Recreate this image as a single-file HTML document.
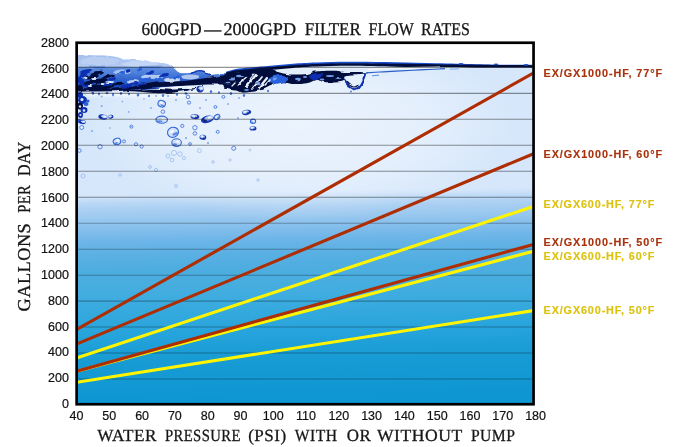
<!DOCTYPE html>
<html lang="en"><head><meta charset="utf-8"><title>600GPD-2000GPD Filter Flow Rates</title>
<style>html,body{margin:0;padding:0;background:#fff}body{width:700px;height:447px;overflow:hidden}svg{display:block}.ax{font-family:"Liberation Sans","DejaVu Sans",sans-serif;font-size:12.5px;fill:#111;stroke:#111;stroke-width:.2px}.tt{font-family:"Liberation Serif","DejaVu Serif",serif;fill:#161616;stroke:#161616;stroke-width:.3px;letter-spacing:.5px;text-rendering:geometricPrecision}.lb{font-family:"Liberation Sans","DejaVu Sans",sans-serif;font-weight:bold;font-size:10.8px;stroke-width:.15px}</style></head><body>
<svg width="700" height="447" viewBox="0 0 700 447">
<defs>
<linearGradient id="bg" x1="515" y1="44" x2="521.07" y2="403" gradientUnits="userSpaceOnUse">
<stop offset="0.0000" stop-color="#d6e7fb"/>
<stop offset="0.3982" stop-color="#d6e7fb"/>
<stop offset="0.4066" stop-color="#d1e4fa"/>
<stop offset="0.4149" stop-color="#c6def7"/>
<stop offset="0.4233" stop-color="#bad8f5"/>
<stop offset="0.4428" stop-color="#aacff2"/>
<stop offset="0.4623" stop-color="#9ecaf0"/>
<stop offset="0.4790" stop-color="#92c5ee"/>
<stop offset="0.4957" stop-color="#86bfec"/>
<stop offset="0.5319" stop-color="#6db5e8"/>
<stop offset="0.5709" stop-color="#5ab0e3"/>
<stop offset="0.6071" stop-color="#4fade0"/>
<stop offset="0.6711" stop-color="#44addf"/>
<stop offset="0.7073" stop-color="#3aabdf"/>
<stop offset="0.7547" stop-color="#2fa7dd"/>
<stop offset="0.7964" stop-color="#25a3dc"/>
<stop offset="0.8410" stop-color="#1b9dd5"/>
<stop offset="0.9078" stop-color="#1499d3"/>
<stop offset="0.9774" stop-color="#0e96d2"/>
<stop offset="0.9997" stop-color="#0e96d2"/>
</linearGradient>
<clipPath id="cp"><rect x="77.5" y="43.6" width="455.19999999999993" height="359.8"/></clipPath>
</defs>
<rect x="0" y="0" width="700" height="447" fill="#fff"/>
<g clip-path="url(#cp)">
<rect x="76" y="44" width="458" height="359" fill="url(#bg)"/>
<path d="M75,43 L537,43 L537,66.4 L536.0,66.3 C526.0,66.2 492.7,65.8 476.0,65.5 C459.3,65.2 449.3,64.9 436.0,64.6 C422.7,64.2 410.3,63.7 396.0,63.4 C381.7,63.1 363.3,62.8 350.0,62.9 C336.7,63.0 325.5,63.6 316.0,64.0 C306.5,64.4 300.6,64.5 293.0,65.1 C285.4,65.7 277.5,66.8 270.3,67.4 C263.1,68.1 255.7,68.5 250.0,69.0 C244.3,69.5 240.2,69.6 236.0,70.3 C231.8,71.0 228.5,72.3 225.0,73.0 C221.5,73.7 217.7,74.3 215.0,74.6 C212.3,74.9 210.4,75.1 208.6,74.6 C206.8,74.0 205.5,71.9 204.0,71.3 C202.5,70.7 201.3,70.5 199.4,70.7 C197.5,70.9 194.8,72.0 192.6,72.4 C190.4,72.8 188.3,73.3 186.0,73.3 C183.7,73.3 181.1,73.4 178.9,72.4 C176.7,71.4 174.9,68.9 173.0,67.5 C171.1,66.1 170.2,64.8 167.4,64.0 C164.6,63.2 159.8,63.2 156.0,62.6 C152.2,62.0 149.4,61.1 144.6,60.6 C139.8,60.1 133.2,60.2 127.4,59.4 C121.6,58.6 115.4,56.7 110.0,56.0 C104.6,55.3 100.7,55.5 95.0,55.4 C89.3,55.2 79.2,55.1 76.0,55.1 L75,55.1 Z" fill="#fff"/>
<defs>
<filter id="rough" x="-5%" y="-30%" width="110%" height="160%"><feTurbulence type="fractalNoise" baseFrequency="0.09 0.14" numOctaves="2" seed="4" result="n"/><feDisplacementMap in="SourceGraphic" in2="n" scale="4" xChannelSelector="R" yChannelSelector="G"/><feGaussianBlur stdDeviation="0.35"/></filter>
<filter id="soft" x="-10%" y="-30%" width="120%" height="160%"><feGaussianBlur stdDeviation="0.45"/></filter>
<filter id="soft2" x="-10%" y="-30%" width="120%" height="160%"><feGaussianBlur stdDeviation="1.2"/></filter>
<linearGradient id="crestg" x1="0" y1="55" x2="0" y2="92" gradientUnits="userSpaceOnUse"><stop offset="0" stop-color="#a4bfee"/><stop offset="0.3" stop-color="#b4caf1"/><stop offset="0.36" stop-color="#5f8fe2"/><stop offset="0.7" stop-color="#2a5fcb"/><stop offset="1" stop-color="#143ca6"/></linearGradient>
<radialGradient id="hl" cx="300" cy="125" r="1" gradientUnits="userSpaceOnUse" gradientTransform="translate(300 125) scale(215 95) translate(-300 -125)"><stop offset="0" stop-color="#fff" stop-opacity="0.52"/><stop offset="0.55" stop-color="#fff" stop-opacity="0.36"/><stop offset="1" stop-color="#fff" stop-opacity="0"/></radialGradient>
</defs>
<rect x="76" y="60" width="460" height="175" fill="url(#hl)"/>
<g filter="url(#rough)">
<path d="M76.0,55.1 C79.2,55.1 89.3,55.2 95.0,55.4 C100.7,55.5 104.6,55.3 110.0,56.0 C115.4,56.7 121.6,58.6 127.4,59.4 C133.2,60.2 139.8,60.1 144.6,60.6 C149.4,61.1 152.2,62.0 156.0,62.6 C159.8,63.2 164.6,63.2 167.4,64.0 C170.2,64.8 171.1,66.1 173.0,67.5 C174.9,68.9 176.7,71.4 178.9,72.4 C181.1,73.4 183.7,73.3 186.0,73.3 C188.3,73.3 190.4,72.8 192.6,72.4 C194.8,72.0 197.5,70.9 199.4,70.7 C201.3,70.5 202.5,70.7 204.0,71.3 C205.5,71.9 206.8,74.0 208.6,74.6 C210.4,75.1 212.3,74.9 215.0,74.6 C217.7,74.3 221.5,73.7 225.0,73.0 C228.5,72.3 234.2,70.8 236.0,70.3 L236,82 L207,82 L185,85 L156,88 L133,90 L116,91 L76,91 Z" fill="url(#crestg)"/>
<ellipse cx="100" cy="61" rx="20" ry="4" fill="#c0d3f4" opacity="0.7"/>
<ellipse cx="140" cy="64" rx="18" ry="3" fill="#cbdbf6" opacity="0.7"/>
<ellipse cx="122" cy="72" rx="9" ry="2.5" fill="#c8daf7" opacity="0.7"/>
<ellipse cx="152" cy="77" rx="11" ry="3" fill="#cfe0f8" opacity="0.8"/>
<ellipse cx="172" cy="80" rx="8" ry="2.5" fill="#e6effb" opacity="0.85"/>
<ellipse cx="190" cy="77" rx="9" ry="2.5" fill="#bdd2f4" opacity="0.9"/>
<ellipse cx="133" cy="81" rx="6" ry="2" fill="#dfeafa" opacity="0.8"/>
<ellipse cx="215" cy="78" rx="6" ry="2" fill="#9fbdee" opacity="0.8"/>
<ellipse cx="92" cy="77" rx="7" ry="2.2" fill="#050d3c" transform="rotate(-12 92 77)"/>
<ellipse cx="100" cy="81" rx="8" ry="2.4" fill="#050d3c" transform="rotate(-12 100 81)"/>
<ellipse cx="88" cy="84" rx="6" ry="2.5" fill="#0a2fb0" transform="rotate(-12 88 84)"/>
<ellipse cx="106" cy="85" rx="6" ry="2" fill="#0a2fb0" transform="rotate(-12 106 85)"/>
<ellipse cx="96" cy="87" rx="9" ry="1.8" fill="#050d3c" transform="rotate(-12 96 87)"/>
<ellipse cx="84" cy="74" rx="4" ry="2" fill="#0a2fb0" transform="rotate(-12 84 74)"/>
<ellipse cx="112" cy="79" rx="4" ry="1.6" fill="#0a2fb0" transform="rotate(-12 112 79)"/>
<ellipse cx="122" cy="73" rx="3" ry="2" fill="#2560dd" transform="rotate(-12 122 73)"/>
<ellipse cx="128" cy="71" rx="2.5" ry="1.6" fill="#0a2fb0" transform="rotate(-12 128 71)"/>
<ellipse cx="140" cy="70" rx="2" ry="1.2" fill="#2560dd" transform="rotate(-12 140 70)"/>
<ellipse cx="133" cy="83" rx="5" ry="1.5" fill="#0a2fb0" transform="rotate(-12 133 83)"/>
<ellipse cx="145" cy="80" rx="5" ry="2" fill="#2560dd" transform="rotate(-12 145 80)"/>
<ellipse cx="81" cy="81" rx="3" ry="5" fill="#0a2fb0" transform="rotate(-12 81 81)"/>
<ellipse cx="158" cy="79" rx="4" ry="1.5" fill="#2560dd" transform="rotate(-12 158 79)"/>
<ellipse cx="86" cy="71" rx="6" ry="1.6" fill="#0a2fb0" transform="rotate(-12 86 71)"/>
<ellipse cx="97" cy="73" rx="7" ry="1.8" fill="#050d3c" transform="rotate(-12 97 73)"/>
<ellipse cx="108" cy="76" rx="6" ry="1.8" fill="#050d3c" transform="rotate(-12 108 76)"/>
<ellipse cx="92" cy="82" rx="9" ry="2.2" fill="#050d3c" transform="rotate(-12 92 82)"/>
<ellipse cx="118" cy="84" rx="7" ry="1.8" fill="#050d3c" transform="rotate(-12 118 84)"/>
<ellipse cx="104" cy="88" rx="10" ry="1.6" fill="#050d3c" transform="rotate(-12 104 88)"/>
<ellipse cx="126" cy="86" rx="6" ry="1.5" fill="#0a2fb0" transform="rotate(-12 126 86)"/>
<ellipse cx="80" cy="88" rx="3" ry="3" fill="#050d3c" transform="rotate(-12 80 88)"/>
<ellipse cx="140" cy="85" rx="6" ry="1.4" fill="#0a2fb0" transform="rotate(-12 140 85)"/>
<ellipse cx="165" cy="75" rx="5" ry="1.5" fill="#0a2fb0" transform="rotate(-12 165 75)"/>
<ellipse cx="150" cy="72" rx="4" ry="1.2" fill="#0a2fb0" transform="rotate(-12 150 72)"/>
<ellipse cx="176" cy="77" rx="4" ry="1.3" fill="#2560dd" transform="rotate(-12 176 77)"/>
<ellipse cx="94" cy="79" rx="3" ry="1" fill="#e6effb"/>
<ellipse cx="103" cy="83" rx="2.5" ry="1" fill="#e6effb"/>
<ellipse cx="90" cy="86" rx="2" ry="1" fill="#e6effb"/>
<ellipse cx="110" cy="82" rx="3" ry="1.1" fill="#e6effb"/>
<ellipse cx="86" cy="78" rx="1.5" ry="1" fill="#e6effb"/>
<path d="M76.0,89.2 L100.0,89.1 L116.0,88.6 L133.0,86.5 L156.0,82.6 L184.6,81.1 L207.4,77.9 L222.0,75.5 L232.0,74.5 L232.0,87.5 L222.0,84.5 L207.4,84.5 L184.6,85.7 L156.0,87.0 L133.0,89.5 L116.0,91.2 L100.0,91.5 L76.0,91.4 Z" fill="#050d3c"/>
<path d="M128.0,90.0 L140.0,89.4 L156.0,88.7 L170.0,89.7 L185.0,89.0 L196.0,87.9 L196.0,89.1 L185.0,91.0 L170.0,93.1 L156.0,93.3 L140.0,91.8 L128.0,91.0 Z" fill="#050d3c"/>
<path d="M160,87.6 L176,87.0 L192,85.8 L192,86.8 L176,88.2 L160,88.6 Z" fill="#f4f8fd"/>
<path d="M190.0,73.2 C190.8,72.9 193.4,72.0 195.0,71.6 C196.6,71.2 197.9,70.6 199.4,70.6 C200.9,70.6 202.5,70.7 204.0,71.4 C205.5,72.1 206.9,74.2 208.6,75.0 C210.3,75.8 213.1,76.1 214.0,76.3" fill="none" stroke="#0a2fb0" stroke-width="1.3"/>
<path d="M224.0,75.5 C226.0,72.9 230.8,72.4 236.0,71.5 C241.2,70.6 249.3,70.4 255.0,70.0 C260.7,69.6 266.2,68.9 270.0,69.2 C273.8,69.5 274.7,71.1 278.0,72.0 C281.3,72.9 285.2,74.2 290.0,74.5 C294.8,74.8 302.7,74.5 307.0,74.0 C311.3,73.5 311.3,72.0 316.0,71.5 C320.7,71.0 330.2,70.7 335.0,70.8 C339.8,70.9 339.8,71.8 345.0,72.0 C350.2,72.2 362.5,72.0 366.0,72.3 C369.5,72.6 369.3,73.1 366.0,73.6 C362.7,74.1 349.7,74.3 346.0,75.5 C342.3,76.7 345.8,79.3 344.0,80.5 C342.2,81.7 338.3,82.3 335.0,82.6 C331.7,82.8 327.2,82.4 324.0,82.0 C320.8,81.6 318.8,79.8 316.0,80.0 C313.2,80.2 311.0,82.5 307.0,83.2 C303.0,83.9 296.3,84.2 292.0,84.0 C287.7,83.8 284.3,81.8 281.0,82.0 C277.7,82.2 275.2,84.2 272.0,85.5 C268.8,86.8 265.7,88.9 262.0,90.0 C258.3,91.1 253.4,91.6 250.0,92.0 C246.6,92.4 244.0,92.8 241.7,92.6 C239.4,92.3 238.1,91.0 236.0,90.5 C233.9,90.0 231.0,90.1 229.0,89.5 C227.0,88.9 224.8,89.3 224.0,87.0 C223.2,84.7 222.0,78.1 224.0,75.5 Z" fill="#050d3c"/>
<path d="M268.0,80.0 C268.0,78.7 271.7,76.8 274.0,76.0 C276.3,75.2 279.7,74.7 282.0,75.0 C284.3,75.3 287.7,76.8 288.0,78.0 C288.3,79.2 286.3,81.0 284.0,82.0 C281.7,83.0 276.7,84.3 274.0,84.0 C271.3,83.7 268.0,81.3 268.0,80.0 Z" fill="#2560dd"/>
<path d="M309.0,76.0 C309.2,74.9 311.8,73.9 314.0,73.5 C316.2,73.1 321.0,72.8 322.0,73.5 C323.0,74.2 321.5,76.9 320.0,78.0 C318.5,79.1 314.8,80.3 313.0,80.0 C311.2,79.7 308.8,77.1 309.0,76.0 Z" fill="#0a2fb0"/>
<line x1="246" y1="87" x2="256" y2="75" stroke="#eaf1fb" stroke-width="2.2" stroke-linecap="round"/>
<line x1="252" y1="89" x2="262" y2="77" stroke="#eaf1fb" stroke-width="1.8" stroke-linecap="round"/>
<line x1="259" y1="88" x2="267" y2="78" stroke="#eaf1fb" stroke-width="2.2" stroke-linecap="round"/>
<line x1="242" y1="81" x2="247" y2="76.5" stroke="#eaf1fb" stroke-width="1.4" stroke-linecap="round"/>
<line x1="265" y1="85" x2="270" y2="80" stroke="#eaf1fb" stroke-width="1.6" stroke-linecap="round"/>
<line x1="238" y1="85" x2="243" y2="81" stroke="#eaf1fb" stroke-width="1.3" stroke-linecap="round"/>
<line x1="232" y1="86" x2="236" y2="82" stroke="#eaf1fb" stroke-width="1.2" stroke-linecap="round"/>
<line x1="250" y1="79" x2="254" y2="74" stroke="#eaf1fb" stroke-width="1.2" stroke-linecap="round"/>
<ellipse cx="275" cy="79" rx="2.4" ry="1.4" fill="#6f9ce4"/>
<ellipse cx="298" cy="79" rx="3" ry="1.3" fill="#6f9ce4"/>
<ellipse cx="330" cy="76" rx="4" ry="1.1" fill="#6f9ce4"/>
<ellipse cx="322" cy="79.5" rx="2.4" ry="0.9" fill="#6f9ce4"/>
<ellipse cx="240" cy="76" rx="4" ry="1.2" fill="#6f9ce4"/>
<ellipse cx="232" cy="79" rx="3" ry="1.5" fill="#6f9ce4"/>
<ellipse cx="305" cy="77" rx="2" ry="1" fill="#6f9ce4"/>
<ellipse cx="338" cy="79" rx="2.5" ry="1" fill="#6f9ce4"/>
<ellipse cx="246" cy="90" rx="3" ry="1" fill="#6f9ce4"/>
<ellipse cx="258" cy="84" rx="2" ry="1.4" fill="#6f9ce4"/>
<ellipse cx="228" cy="83" rx="2.5" ry="1.2" fill="#6f9ce4"/>
<path d="M343.0,79.0 C343.7,79.8 345.7,82.6 347.0,84.0 C348.3,85.4 349.7,86.6 351.0,87.5 C352.3,88.4 353.7,89.3 355.0,89.2 C356.3,89.1 357.8,88.2 359.0,87.0 C360.2,85.8 361.1,83.8 362.0,82.0 C362.9,80.2 364.0,77.4 364.5,76.0 C365.0,74.6 364.9,73.9 365.0,73.5" fill="none" stroke="#0a2fb0" stroke-width="2.1"/>
<path d="M347.0,82.0 C347.7,82.6 349.7,84.7 351.0,85.5 C352.3,86.3 353.8,87.1 355.0,87.0 C356.2,86.9 357.5,85.3 358.0,85.0" fill="none" stroke="#050d3c" stroke-width="1.1"/>
</g>
<path d="M226.0,71.7 C227.7,71.2 232.0,69.7 236.0,69.0 C240.0,68.3 244.3,68.0 250.0,67.5 C255.7,67.0 263.1,66.3 270.3,65.7 C277.5,65.1 285.4,64.2 293.0,63.7 C300.6,63.2 306.5,62.8 316.0,62.5 C325.5,62.1 336.7,61.8 350.0,61.8 C363.3,61.7 381.7,62.0 396.0,62.2 C410.3,62.5 422.7,63.0 436.0,63.3 C449.3,63.6 464.3,64.0 476.0,64.2 C487.7,64.5 495.8,64.6 506.0,64.7 C516.2,64.8 531.8,64.8 537.0,64.8 L537.0,65.6 C531.8,65.6 516.2,65.5 506.0,65.5 C495.8,65.5 487.7,65.4 476.0,65.3 C464.3,65.2 449.3,65.1 436.0,64.9 C422.7,64.7 410.3,64.5 396.0,64.3 C381.7,64.2 363.3,63.8 350.0,63.8 C336.7,63.9 325.5,64.2 316.0,64.5 C306.5,64.9 300.6,65.3 293.0,65.9 C285.4,66.5 277.5,67.3 270.3,67.9 C263.1,68.5 255.7,69.0 250.0,69.5 C244.3,70.0 240.0,70.3 236.0,70.8 C232.0,71.3 227.7,72.4 226.0,72.7 Z" fill="#1b50cc" filter="url(#soft)"/>
<path d="M226.0,72.6 C227.7,72.2 232.0,70.9 236.0,70.3 C240.0,69.7 244.3,69.4 250.0,68.9 C255.7,68.3 263.1,67.8 270.3,67.2 C277.5,66.7 285.4,65.8 293.0,65.2 C300.6,64.7 306.5,64.3 316.0,64.0 C325.5,63.7 336.7,63.4 350.0,63.3 C363.3,63.3 381.7,63.6 396.0,63.8 C410.3,63.9 422.7,64.1 436.0,64.3 C449.3,64.5 464.3,64.7 476.0,64.8 C487.7,64.9 495.8,65.0 506.0,65.0 C516.2,65.1 531.8,65.1 537.0,65.2 L537.0,67.7 C531.8,67.6 516.2,67.6 506.0,67.5 C495.8,67.5 487.7,67.5 476.0,67.4 C464.3,67.3 449.3,67.2 436.0,67.1 C422.7,67.0 410.3,66.9 396.0,66.7 C381.7,66.4 363.3,65.9 350.0,65.8 C336.7,65.8 325.5,66.2 316.0,66.6 C306.5,66.9 300.6,67.4 293.0,67.9 C285.4,68.5 277.5,69.3 270.3,69.9 C263.1,70.5 255.7,71.1 250.0,71.5 C244.3,72.0 240.0,72.3 236.0,72.9 C232.0,73.5 227.7,74.7 226.0,75.0 Z" fill="#050d3c" filter="url(#soft)"/>
<ellipse cx="496" cy="64.4" rx="2.4" ry="0.9" fill="#1d4fc0"/>
<ellipse cx="526" cy="64.9" rx="2.4" ry="0.9" fill="#1d4fc0"/>
<ellipse cx="461" cy="63.9" rx="2.4" ry="0.9" fill="#1d4fc0"/>
<path d="M366.0,72.8 C368.3,72.7 375.0,72.3 380.0,72.0 C385.0,71.7 389.3,71.5 396.0,71.2 C402.7,70.9 411.8,70.3 420.0,69.9 C428.2,69.5 440.8,68.9 445.0,68.7" fill="none" stroke="#2a5fc8" stroke-width="1.2" filter="url(#soft)"/>
<path d="M449.7,69.1 L458.9,68.9" stroke="#7fa8e8" stroke-width="1"/>
<path d="M372,75.8 L379,75.2" stroke="#5d8fe0" stroke-width="1"/>
<path d="M368.0,69.5 C372.7,69.2 384.0,68.4 396.0,68.0 C408.0,67.6 432.7,67.4 440.0,67.3" fill="none" stroke="#f3f7fd" stroke-width="2" opacity=".8"/>
<path d="M86.0,92.5 L116.0,92.0 L140.0,93.5 L156.0,94.8 L185.0,93.0 L207.0,88.8 L222.0,90.5 L222.0,93.5 L207.0,93.2 L185.0,97.0 L156.0,98.2 L140.0,97.5 L116.0,96.5 L86.0,96.5 Z" fill="#fff" opacity=".55" filter="url(#soft2)"/>
<ellipse cx="93" cy="93.2" rx="1.2" ry="1.6" fill="#2458d0" opacity=".8"/>
<ellipse cx="99" cy="94" rx="1" ry="1.4" fill="#2458d0" opacity=".8"/>
<ellipse cx="107" cy="93" rx="1.4" ry="1.2" fill="#2458d0" opacity=".8"/>
<ellipse cx="113" cy="94.6" rx="1" ry="1.8" fill="#2458d0" opacity=".8"/>
<ellipse cx="121" cy="93.5" rx="1.2" ry="1.4" fill="#2458d0" opacity=".8"/>
<ellipse cx="129" cy="94" rx="1" ry="1.2" fill="#2458d0" opacity=".8"/>
<ellipse cx="138" cy="95" rx="1.3" ry="1.5" fill="#2458d0" opacity=".8"/>
<ellipse cx="149" cy="96" rx="1" ry="1.3" fill="#2458d0" opacity=".8"/>
<ellipse cx="163" cy="95.5" rx="1.2" ry="1.6" fill="#2458d0" opacity=".8"/>
<ellipse cx="177" cy="94.5" rx="1" ry="1.4" fill="#2458d0" opacity=".8"/>
<ellipse cx="186" cy="93.5" rx="1.4" ry="1.2" fill="#2458d0" opacity=".8"/>
<ellipse cx="211" cy="91.5" rx="1.2" ry="1.5" fill="#2458d0" opacity=".8"/>
<ellipse cx="219" cy="92.5" rx="1" ry="1.3" fill="#2458d0" opacity=".8"/>
<ellipse cx="231" cy="93.5" rx="1.2" ry="1.6" fill="#2458d0" opacity=".8"/>
<ellipse cx="244" cy="95.5" rx="1.2" ry="1.4" fill="#2458d0" opacity=".8"/>
<ellipse cx="268" cy="91" rx="1" ry="1.2" fill="#2458d0" opacity=".8"/>
<ellipse cx="351" cy="91.5" rx="0.9" ry="1.1" fill="#2458d0" opacity=".8"/>
<g filter="url(#soft)">
<ellipse cx="80" cy="95" rx="3" ry="3" fill="#0a2fb0"/>
<ellipse cx="82.5" cy="100" rx="4.5" ry="4" fill="#0a2fb0"/>
<ellipse cx="80" cy="106" rx="3" ry="3.5" fill="#050d3c"/>
<ellipse cx="84" cy="110" rx="3.5" ry="3" fill="#0a2fb0"/>
<ellipse cx="80.5" cy="115" rx="2.5" ry="3" fill="#0a2fb0"/>
<ellipse cx="86" cy="104" rx="2.5" ry="2" fill="#2560dd"/>
<ellipse cx="79.5" cy="121" rx="2" ry="2" fill="#2560dd"/>
<ellipse cx="88" cy="101" rx="1.5" ry="1.5" fill="#2560dd"/>
<circle cx="82" cy="99.5" r="1.6" fill="#dbe8fa"/>
<circle cx="80" cy="106.5" r="1.2" fill="#dbe8fa"/>
<circle cx="84" cy="110.5" r="1.3" fill="#dbe8fa"/>
<circle cx="80.5" cy="115" r="1" fill="#dbe8fa"/>
<g transform="rotate(8 102.9 117)"><ellipse cx="102.9" cy="117" rx="4.6" ry="2.6" fill="#1238b8"/><ellipse cx="104.1" cy="116.5" rx="3.2" ry="1.6" fill="#b9d0f6"/><ellipse cx="101.3" cy="117.6" rx="1.3" ry="0.7" fill="#050d3c" opacity=".7"/><ellipse cx="104.7" cy="116.3" rx="1.4" ry="0.7" fill="#fff"/></g>
<g transform="rotate(-10 110.9 116.8)"><ellipse cx="110.9" cy="116.8" rx="2.6" ry="2" fill="#1238b8"/><ellipse cx="110.4" cy="116.4" rx="1.8" ry="1.2" fill="#b9d0f6"/><ellipse cx="111.5" cy="117.3" rx="0.7" ry="0.5" fill="#050d3c" opacity=".7"/><ellipse cx="110.2" cy="116.2" rx="0.8" ry="0.5" fill="#fff"/></g>
<g transform="rotate(5 82.3 122.1)"><ellipse cx="82.3" cy="122.1" rx="3.6" ry="2" fill="#1238b8"/><ellipse cx="83.2" cy="121.7" rx="2.5" ry="1.2" fill="#b9d0f6"/><ellipse cx="81.1" cy="122.6" rx="1.0" ry="0.5" fill="#050d3c" opacity=".7"/><ellipse cx="83.7" cy="121.5" rx="1.1" ry="0.5" fill="#fff"/></g>
<g transform="rotate(5 194.9 116.7)"><ellipse cx="194.9" cy="116.7" rx="4.4" ry="2.4" fill="#1238b8"/><ellipse cx="194.1" cy="116.2" rx="3.1" ry="1.5" fill="#b9d0f6"/><ellipse cx="195.9" cy="117.3" rx="1.2" ry="0.6" fill="#050d3c" opacity=".7"/><ellipse cx="193.7" cy="116.0" rx="1.3" ry="0.6" fill="#fff"/></g>
<g transform="rotate(-15 207.4 119.3)"><ellipse cx="207.4" cy="119.3" rx="6.6" ry="3.6" fill="#1238b8"/><ellipse cx="209.1" cy="118.6" rx="4.6" ry="2.2" fill="#b9d0f6"/><ellipse cx="205.2" cy="120.2" rx="1.8" ry="0.9" fill="#050d3c" opacity=".7"/><ellipse cx="210.0" cy="118.3" rx="2.0" ry="0.9" fill="#fff"/></g>
<g transform="rotate(20 161.7 103.7)"><ellipse cx="161.7" cy="103.7" rx="3.8" ry="3.2" fill="#d3e2f9" stroke="#3468d8" stroke-width="1.1"/><ellipse cx="162.8" cy="105.1" rx="2.1" ry="1.0" fill="#3d72de" opacity=".75"/><ellipse cx="161.0" cy="102.9" rx="1.5" ry="1.0" fill="#f4f8fe"/></g>
<g transform="rotate(0 161.7 119.7)"><ellipse cx="161.7" cy="119.7" rx="5.8" ry="3.6" fill="#d3e2f9" stroke="#3468d8" stroke-width="1.1"/><ellipse cx="159.3" cy="121.3" rx="3.2" ry="1.1" fill="#3d72de" opacity=".75"/><ellipse cx="163.2" cy="118.8" rx="2.3" ry="1.1" fill="#f4f8fe"/></g>
<g transform="rotate(-20 173 132.3)"><ellipse cx="173" cy="132.3" rx="5.6" ry="5" fill="#d3e2f9" stroke="#3468d8" stroke-width="1.1"/><ellipse cx="174.6" cy="134.6" rx="3.1" ry="1.5" fill="#3d72de" opacity=".75"/><ellipse cx="172.0" cy="131.1" rx="2.2" ry="1.5" fill="#f4f8fe"/></g>
<g transform="rotate(0 176.6 142.6)"><ellipse cx="176.6" cy="142.6" rx="4.8" ry="3.8" fill="#d3e2f9" stroke="#3468d8" stroke-width="1.1"/><ellipse cx="174.6" cy="144.3" rx="2.6" ry="1.1" fill="#3d72de" opacity=".75"/><ellipse cx="177.8" cy="141.7" rx="1.9" ry="1.1" fill="#f4f8fe"/></g>
<g transform="rotate(10 202.9 137.3)"><ellipse cx="202.9" cy="137.3" rx="3.4" ry="2.6" fill="#1238b8"/><ellipse cx="202.3" cy="136.7" rx="2.4" ry="1.6" fill="#b9d0f6"/><ellipse cx="203.7" cy="138.0" rx="1.0" ry="0.7" fill="#050d3c" opacity=".7"/><ellipse cx="202.0" cy="136.5" rx="1.0" ry="0.7" fill="#fff"/></g>
<g transform="rotate(-20 117 141.4)"><ellipse cx="117" cy="141.4" rx="3.8" ry="3.2" fill="#d3e2f9" stroke="#3468d8" stroke-width="1.1"/><ellipse cx="115.4" cy="142.8" rx="2.1" ry="1.0" fill="#3d72de" opacity=".75"/><ellipse cx="118.0" cy="140.6" rx="1.5" ry="1.0" fill="#f4f8fe"/></g>
<g transform="rotate(-10 246.6 112.4)"><ellipse cx="246.6" cy="112.4" rx="4.6" ry="2.6" fill="#1238b8"/><ellipse cx="245.8" cy="111.8" rx="3.2" ry="1.6" fill="#b9d0f6"/><ellipse cx="247.7" cy="113.1" rx="1.3" ry="0.7" fill="#050d3c" opacity=".7"/><ellipse cx="245.4" cy="111.6" rx="1.4" ry="0.7" fill="#fff"/></g>
<g transform="rotate(0 253 121.3)"><ellipse cx="253" cy="121.3" rx="2.6" ry="2.2" fill="#d3e2f9" stroke="#3468d8" stroke-width="1.1"/><ellipse cx="251.9" cy="122.3" rx="1.4" ry="0.7" fill="#3d72de" opacity=".75"/><ellipse cx="253.7" cy="120.8" rx="1.0" ry="0.7" fill="#f4f8fe"/></g>
<g transform="rotate(0 253 128.4)"><ellipse cx="253" cy="128.4" rx="3.4" ry="2.2" fill="#1238b8"/><ellipse cx="252.4" cy="127.9" rx="2.4" ry="1.4" fill="#b9d0f6"/><ellipse cx="253.8" cy="129.0" rx="1.0" ry="0.6" fill="#050d3c" opacity=".7"/><ellipse cx="252.1" cy="127.7" rx="1.0" ry="0.6" fill="#fff"/></g>
<g transform="rotate(0 200 89.1)"><ellipse cx="200" cy="89.1" rx="3.6" ry="3.4" fill="#1238b8"/><ellipse cx="200.9" cy="88.4" rx="2.5" ry="2.1" fill="#b9d0f6"/><ellipse cx="198.8" cy="89.9" rx="1.0" ry="0.9" fill="#050d3c" opacity=".7"/><ellipse cx="201.4" cy="88.1" rx="1.1" ry="0.8" fill="#fff"/></g>
<g transform="rotate(-30 217 117)"><ellipse cx="217" cy="117" rx="3" ry="2.2" fill="#d3e2f9" stroke="#3468d8" stroke-width="1.1"/><ellipse cx="217.9" cy="118.0" rx="1.7" ry="0.7" fill="#3d72de" opacity=".75"/><ellipse cx="216.5" cy="116.5" rx="1.2" ry="0.7" fill="#f4f8fe"/></g>
<circle cx="81.7" cy="127.5" r="2" fill="#e3edfb" stroke="#2a5fd4" stroke-width=".8" stroke-opacity=".9"/>
<circle cx="101.7" cy="106.1" r="0.99" fill="#5b8de6" opacity=".75"/>
<circle cx="101.7" cy="96.4" r="0.90" fill="#5b8de6" opacity=".75"/>
<circle cx="131.4" cy="126.7" r="1.5" fill="#e3edfb" stroke="#2a5fd4" stroke-width=".8" stroke-opacity=".9"/>
<circle cx="128.6" cy="111.9" r="0.90" fill="#5b8de6" opacity=".75"/>
<circle cx="122.3" cy="101.6" r="0.81" fill="#5b8de6" opacity=".75"/>
<circle cx="188" cy="96.9" r="1.8" fill="#e3edfb" stroke="#2a5fd4" stroke-width=".8" stroke-opacity=".9"/>
<circle cx="189" cy="102.6" r="1.6" fill="#e3edfb" stroke="#2a5fd4" stroke-width=".8" stroke-opacity=".9"/>
<circle cx="223.4" cy="96.9" r="1.5" fill="#e3edfb" stroke="#2a5fd4" stroke-width=".8" stroke-opacity=".9"/>
<circle cx="215.4" cy="107" r="1.4" fill="#e3edfb" stroke="#2a5fd4" stroke-width=".8" stroke-opacity=".9"/>
<circle cx="162.9" cy="111.7" r="1.8" fill="#e3edfb" stroke="#2a5fd4" stroke-width=".8" stroke-opacity=".9"/>
<circle cx="194.9" cy="127.7" r="2.2" fill="#e3edfb" stroke="#2a5fd4" stroke-width=".8" stroke-opacity=".9"/>
<circle cx="194.9" cy="133.4" r="1.8" fill="#e3edfb" stroke="#2a5fd4" stroke-width=".8" stroke-opacity=".9"/>
<circle cx="182.3" cy="125.9" r="1.6" fill="#e3edfb" stroke="#2a5fd4" stroke-width=".8" stroke-opacity=".9"/>
<circle cx="124" cy="141.4" r="1.5" fill="#e3edfb" stroke="#2a5fd4" stroke-width=".8" stroke-opacity=".9"/>
<circle cx="100" cy="146.7" r="2.2" fill="#e3edfb" stroke="#2a5fd4" stroke-width=".8" stroke-opacity=".9"/>
<circle cx="136" cy="144.2" r="1.6" fill="#e3edfb" stroke="#2a5fd4" stroke-width=".8" stroke-opacity=".9"/>
<circle cx="141.6" cy="146.5" r="1.6" fill="#e3edfb" stroke="#2a5fd4" stroke-width=".8" stroke-opacity=".9"/>
<circle cx="130.9" cy="126.6" r="0.90" fill="#5b8de6" opacity=".75"/>
<circle cx="79.4" cy="150.6" r="1.8" fill="#e3edfb" stroke="#2a5fd4" stroke-width=".8" stroke-opacity=".9"/>
<circle cx="233.7" cy="148.3" r="2" fill="#e3edfb" stroke="#2a5fd4" stroke-width=".8" stroke-opacity=".9"/>
<circle cx="217.7" cy="131.8" r="1.5" fill="#e3edfb" stroke="#2a5fd4" stroke-width=".8" stroke-opacity=".9"/>
<circle cx="168" cy="96" r="1.08" fill="#5b8de6" opacity=".75"/>
<circle cx="176" cy="100" r="0.90" fill="#5b8de6" opacity=".75"/>
<circle cx="206" cy="100" r="0.90" fill="#5b8de6" opacity=".75"/>
<circle cx="228" cy="104" r="0.90" fill="#5b8de6" opacity=".75"/>
<circle cx="186" cy="138" r="1.08" fill="#5b8de6" opacity=".75"/>
<circle cx="190" cy="144" r="1.4" fill="#e3edfb" stroke="#2a5fd4" stroke-width=".8" stroke-opacity=".9"/>
<circle cx="208" cy="143" r="1.08" fill="#5b8de6" opacity=".75"/>
<circle cx="151" cy="108" r="0.90" fill="#5b8de6" opacity=".75"/>
<circle cx="144" cy="99" r="0.81" fill="#5b8de6" opacity=".75"/>
<circle cx="239" cy="98" r="0.90" fill="#5b8de6" opacity=".75"/>
<circle cx="92" cy="131" r="0.90" fill="#5b8de6" opacity=".75"/>
<circle cx="110" cy="128" r="0.81" fill="#5b8de6" opacity=".75"/>
<circle cx="156" cy="96" r="0.90" fill="#5b8de6" opacity=".75"/>
<circle cx="200" cy="108" r="0.90" fill="#5b8de6" opacity=".75"/>
<circle cx="238" cy="118" r="0.90" fill="#5b8de6" opacity=".75"/>
</g>
<g opacity=".55" filter="url(#soft)">
<circle cx="174" cy="152.9" r="2.6" fill="none" stroke="#6f9de4" stroke-width=".9"/>
<circle cx="168" cy="156" r="2" fill="none" stroke="#6f9de4" stroke-width=".9"/>
<circle cx="180" cy="154" r="2.2" fill="none" stroke="#6f9de4" stroke-width=".9"/>
<circle cx="184" cy="158" r="1.6" fill="none" stroke="#6f9de4" stroke-width=".9"/>
<circle cx="199.4" cy="150.6" r="2" fill="none" stroke="#6f9de4" stroke-width=".9"/>
<circle cx="172" cy="160" r="1.8" fill="none" stroke="#6f9de4" stroke-width=".9"/>
<circle cx="150" cy="167" r="1.4" fill="none" stroke="#6f9de4" stroke-width=".9"/>
<circle cx="156" cy="170" r="1.6" fill="none" stroke="#6f9de4" stroke-width=".9"/>
<circle cx="120" cy="175" r="1.2" fill="none" stroke="#6f9de4" stroke-width=".9"/>
<circle cx="230" cy="160" r="1.2" fill="none" stroke="#6f9de4" stroke-width=".9"/>
<circle cx="83" cy="176" r="2" fill="none" stroke="#6f9de4" stroke-width=".9"/>
<circle cx="176" cy="186" r="1.4" fill="none" stroke="#6f9de4" stroke-width=".9"/>
<circle cx="250" cy="150" r="1" fill="none" stroke="#6f9de4" stroke-width=".9"/>
<circle cx="258" cy="180" r="1.2" fill="none" stroke="#6f9de4" stroke-width=".9"/>
<circle cx="213" cy="162" r="1.3" fill="none" stroke="#6f9de4" stroke-width=".9"/>
</g>
<line x1="77" y1="379.03" x2="533" y2="379.03" stroke="#000" stroke-opacity="0.3" stroke-width="1.05"/>
<line x1="77" y1="353.06" x2="533" y2="353.06" stroke="#000" stroke-opacity="0.3" stroke-width="1.05"/>
<line x1="77" y1="327.09" x2="533" y2="327.09" stroke="#000" stroke-opacity="0.3" stroke-width="1.05"/>
<line x1="77" y1="301.12" x2="533" y2="301.12" stroke="#000" stroke-opacity="0.3" stroke-width="1.05"/>
<line x1="77" y1="275.15" x2="533" y2="275.15" stroke="#000" stroke-opacity="0.3" stroke-width="1.05"/>
<line x1="77" y1="249.18" x2="533" y2="249.18" stroke="#000" stroke-opacity="0.3" stroke-width="1.05"/>
<line x1="77" y1="223.21" x2="533" y2="223.21" stroke="#000" stroke-opacity="0.3" stroke-width="1.05"/>
<line x1="77" y1="197.24" x2="533" y2="197.24" stroke="#000" stroke-opacity="0.42" stroke-width="1.05"/>
<line x1="77" y1="171.27" x2="533" y2="171.27" stroke="#000" stroke-opacity="0.42" stroke-width="1.05"/>
<line x1="77" y1="145.30" x2="533" y2="145.30" stroke="#000" stroke-opacity="0.42" stroke-width="1.05"/>
<line x1="77" y1="119.33" x2="533" y2="119.33" stroke="#000" stroke-opacity="0.42" stroke-width="1.05"/>
<line x1="77" y1="93.36" x2="533" y2="93.36" stroke="#000" stroke-opacity="0.42" stroke-width="1.05"/>
<line x1="77" y1="67.39" x2="533" y2="67.39" stroke="#000" stroke-opacity="0.42" stroke-width="1.05"/>
<line x1="76" y1="382.40" x2="535" y2="310.34" stroke="#fff500" stroke-width="3.1"/>
<line x1="76" y1="371.51" x2="535" y2="250.82" stroke="#fff500" stroke-width="3.1"/>
<line x1="76" y1="371.34" x2="535" y2="243.98" stroke="#ae2d03" stroke-width="3.1"/>
<line x1="76" y1="358.14" x2="535" y2="205.94" stroke="#fff500" stroke-width="3.1"/>
<line x1="76" y1="344.31" x2="535" y2="153.12" stroke="#ae2d03" stroke-width="3.1"/>
<line x1="76" y1="329.79" x2="535" y2="72.14" stroke="#ae2d03" stroke-width="3.1"/>
</g>
<rect x="76.65" y="42.75" width="456.90" height="361.50" fill="none" stroke="#000" stroke-width="2.7"/>
<g opacity="0.999">
<text class="ax" x="68.9" y="407.90" text-anchor="end">0</text>
<text class="ax" x="68.9" y="382.11" text-anchor="end">200</text>
<text class="ax" x="68.9" y="356.32" text-anchor="end">400</text>
<text class="ax" x="68.9" y="330.53" text-anchor="end">600</text>
<text class="ax" x="68.9" y="304.74" text-anchor="end">800</text>
<text class="ax" x="68.9" y="278.95" text-anchor="end">1000</text>
<text class="ax" x="68.9" y="253.16" text-anchor="end">1200</text>
<text class="ax" x="68.9" y="227.37" text-anchor="end">1400</text>
<text class="ax" x="68.9" y="201.58" text-anchor="end">1600</text>
<text class="ax" x="68.9" y="175.79" text-anchor="end">1800</text>
<text class="ax" x="68.9" y="150.00" text-anchor="end">2000</text>
<text class="ax" x="68.9" y="124.21" text-anchor="end">2200</text>
<text class="ax" x="68.9" y="98.42" text-anchor="end">2400</text>
<text class="ax" x="68.9" y="72.63" text-anchor="end">2600</text>
<text class="ax" x="68.9" y="46.84" text-anchor="end">2800</text>
<text class="ax" x="76.50" y="420.1" text-anchor="middle">40</text>
<text class="ax" x="109.29" y="420.1" text-anchor="middle">50</text>
<text class="ax" x="142.08" y="420.1" text-anchor="middle">60</text>
<text class="ax" x="174.87" y="420.1" text-anchor="middle">70</text>
<text class="ax" x="207.66" y="420.1" text-anchor="middle">80</text>
<text class="ax" x="240.45" y="420.1" text-anchor="middle">90</text>
<text class="ax" x="273.24" y="420.1" text-anchor="middle">100</text>
<text class="ax" x="306.03" y="420.1" text-anchor="middle">110</text>
<text class="ax" x="338.82" y="420.1" text-anchor="middle">120</text>
<text class="ax" x="371.61" y="420.1" text-anchor="middle">130</text>
<text class="ax" x="404.40" y="420.1" text-anchor="middle">140</text>
<text class="ax" x="437.19" y="420.1" text-anchor="middle">150</text>
<text class="ax" x="469.98" y="420.1" text-anchor="middle">160</text>
<text class="ax" x="502.77" y="420.1" text-anchor="middle">170</text>
<text class="ax" x="535.56" y="420.1" text-anchor="middle">180</text>
<text class="tt" font-size="18.0" y="34.6" style="letter-spacing:0"><tspan x="141.6" textLength="60.1" lengthAdjust="spacingAndGlyphs">600GPD</tspan><tspan x="204.2" textLength="17.0" lengthAdjust="spacingAndGlyphs">—</tspan><tspan x="223.4" textLength="72.6" lengthAdjust="spacingAndGlyphs">2000GPD</tspan> <tspan x="304.8" textLength="56.0" lengthAdjust="spacingAndGlyphs">FILTER</tspan> <tspan x="368.6" textLength="45.0" lengthAdjust="spacingAndGlyphs">FLOW</tspan> <tspan x="421.1" textLength="48.8" lengthAdjust="spacingAndGlyphs">RATES</tspan></text>
<text class="tt" font-size="17.0" y="441.15" ><tspan x="97.3" textLength="59.7" lengthAdjust="spacingAndGlyphs">WATER</tspan> <tspan x="164.9" textLength="76.1" lengthAdjust="spacingAndGlyphs">PRESSURE</tspan> <tspan x="248.2" textLength="38.4" lengthAdjust="spacingAndGlyphs">(PSI)</tspan> <tspan x="294.8" textLength="42.7" lengthAdjust="spacingAndGlyphs">WITH</tspan> <tspan x="346.7" textLength="24.5" lengthAdjust="spacingAndGlyphs">OR</tspan> <tspan x="376.9" textLength="85.5" lengthAdjust="spacingAndGlyphs">WITHOUT</tspan> <tspan x="470.9" textLength="44.5" lengthAdjust="spacingAndGlyphs">PUMP</tspan></text>
<g transform="translate(30.1 311.4) rotate(-90)"><text class="tt" font-size="18.2" y="0" ><tspan x="0" textLength="88.6" lengthAdjust="spacingAndGlyphs">GALLONS</tspan> <tspan x="98.6" textLength="27.9" lengthAdjust="spacingAndGlyphs">PER</tspan> <tspan x="135.5" textLength="34.6" lengthAdjust="spacingAndGlyphs">DAY</tspan></text></g>
<text class="lb" x="543.6" y="77.3" fill="#a8320c" stroke="#a8320c" textLength="118.4" lengthAdjust="spacing">EX/GX1000-HF, 77°F</text>
<text class="lb" x="543.6" y="157.6" fill="#a8320c" stroke="#a8320c" textLength="118.4" lengthAdjust="spacing">EX/GX1000-HF, 60°F</text>
<text class="lb" x="543.6" y="208.3" fill="#dcc20c" stroke="#dcc20c" textLength="110.8" lengthAdjust="spacing">EX/GX600-HF, 77°F</text>
<text class="lb" x="543.6" y="245.7" fill="#a8320c" stroke="#a8320c" textLength="118.4" lengthAdjust="spacing">EX/GX1000-HF, 50°F</text>
<text class="lb" x="543.6" y="259.8" fill="#dcc20c" stroke="#dcc20c" textLength="110.8" lengthAdjust="spacing">EX/GX600-HF, 60°F</text>
<text class="lb" x="543.6" y="314.2" fill="#dcc20c" stroke="#dcc20c" textLength="110.8" lengthAdjust="spacing">EX/GX600-HF, 50°F</text>
</g>
</svg></body></html>
